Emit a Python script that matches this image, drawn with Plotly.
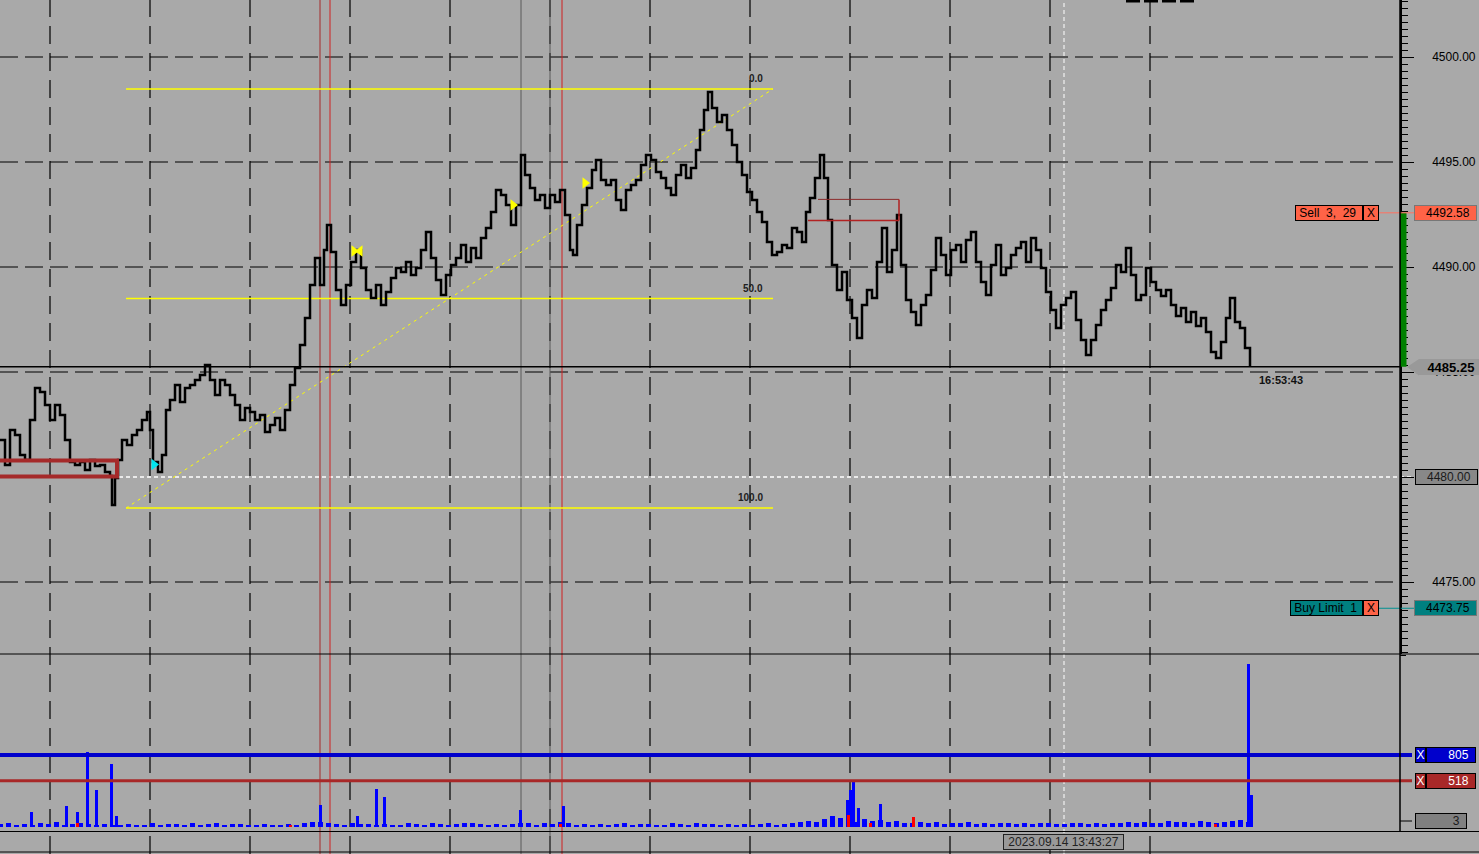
import plotly.graph_objects as go

# ---------------- data ----------------
tick_idx = [0, 5, 10, 15, 20, 25, 30, 35, 40, 45, 50, 55, 60, 65, 70, 75, 80, 85, 90, 95,
            100, 105, 110, 112, 115, 118, 122, 127, 132, 137, 142, 147, 150, 153, 158, 162, 166, 170, 175, 180,
            185, 190, 195, 200, 205, 210, 215, 220, 225, 230, 235, 240, 245, 250, 255, 260, 265, 270, 275, 280,
            285, 290, 295, 300, 305, 310, 315, 320, 324, 327, 331, 336, 341, 346, 351, 356, 361, 366, 371, 376,
            381, 386, 391, 396, 401, 406, 411, 416, 421, 426, 431, 436, 441, 446, 451, 456, 461, 466, 471, 476,
            481, 486, 491, 496, 501, 506, 511, 516, 521, 525, 530, 535, 540, 545, 550, 555, 560, 565, 570, 573,
            577, 582, 587, 592, 596, 601, 606, 611, 616, 621, 626, 631, 636, 641, 646, 651, 656, 661, 666, 671,
            676, 681, 686, 691, 696, 700, 704, 708, 712, 717, 722, 727, 732, 737, 742, 747, 752, 757, 762, 767,
            772, 777, 782, 787, 792, 797, 802, 806, 810, 815, 820, 824, 828, 832, 837, 842, 847, 852, 857, 862,
            867, 872, 877, 882, 887, 892, 897, 901, 906, 911, 916, 921, 926, 931, 936, 941, 946, 951, 956, 961,
            966, 971, 976, 981, 986, 991, 996, 1001, 1006, 1011, 1016, 1021, 1026, 1031, 1036, 1041, 1046, 1051, 1056, 1061,
            1066, 1071, 1076, 1081, 1086, 1091, 1096, 1101, 1106, 1111, 1116, 1121, 1126, 1131, 1136, 1141, 1146, 1151, 1156, 1161,
            1166, 1171, 1176, 1181, 1186, 1191, 1196, 1201, 1206, 1211, 1216, 1221, 1226, 1230, 1235, 1240, 1245, 1250]
price = [4481.76, 4480.57, 4482.24, 4482.00, 4481.05, 4480.81, 4482.71, 4484.24, 4484.05, 4483.43,
         4482.71, 4483.43, 4482.95, 4481.76, 4480.71, 4480.57, 4480.71, 4480.33, 4480.81, 4480.52,
         4480.57, 4480.24, 4480.05, 4478.67, 4479.95, 4480.81, 4481.76, 4481.52, 4482.00, 4482.24,
         4482.71, 4483.10, 4482.24, 4480.71, 4480.24, 4481.05, 4483.19, 4483.67, 4484.38, 4483.57,
         4484.24, 4484.38, 4484.62, 4484.86, 4485.33, 4484.62, 4483.90, 4484.62, 4484.38, 4483.90,
         4483.43, 4482.71, 4483.29, 4483.10, 4482.71, 4482.95, 4482.14, 4482.48, 4482.81, 4482.24,
         4483.19, 4484.38, 4485.19, 4486.29, 4487.57, 4489.14, 4490.43, 4489.14, 4490.81, 4492.00,
         4490.71, 4488.90, 4488.19, 4489.14, 4490.24, 4490.81, 4489.95, 4488.90, 4488.52, 4489.14,
         4488.19, 4488.81, 4489.48, 4489.95, 4489.76, 4490.24, 4489.62, 4489.95, 4490.81, 4491.67,
         4490.43, 4489.38, 4488.67, 4489.62, 4490.10, 4490.43, 4491.05, 4490.24, 4490.90, 4490.43,
         4491.38, 4491.86, 4492.62, 4493.67, 4493.43, 4492.95, 4492.00, 4492.95, 4495.33, 4494.38,
         4493.76, 4493.19, 4493.43, 4492.81, 4493.43, 4493.10, 4493.67, 4492.48, 4490.81, 4490.57,
         4492.00, 4492.95, 4493.76, 4494.62, 4495.10, 4494.14, 4493.90, 4494.14, 4493.19, 4492.71,
         4493.67, 4493.90, 4494.14, 4494.86, 4495.33, 4495.10, 4494.52, 4494.24, 4493.76, 4493.43,
         4494.38, 4494.86, 4494.24, 4494.71, 4495.57, 4496.52, 4497.48, 4498.33, 4497.57, 4496.90,
         4497.24, 4496.52, 4495.81, 4495.00, 4494.38, 4493.57, 4493.19, 4492.62, 4492.14, 4491.19,
         4490.57, 4490.71, 4491.05, 4490.90, 4491.86, 4491.67, 4491.19, 4492.62, 4493.29, 4494.24,
         4495.33, 4494.24, 4492.24, 4490.10, 4488.90, 4489.76, 4488.43, 4487.57, 4486.62, 4488.19,
         4488.90, 4488.52, 4490.24, 4491.86, 4489.76, 4490.81, 4492.48, 4490.10, 4488.43, 4487.86,
         4487.24, 4488.19, 4488.67, 4489.86, 4491.38, 4490.57, 4489.62, 4490.81, 4491.05, 4490.24,
         4491.29, 4491.67, 4490.24, 4489.29, 4488.67, 4490.10, 4491.05, 4489.62, 4489.95, 4490.57,
         4490.90, 4491.19, 4490.24, 4491.38, 4490.81, 4489.95, 4488.81, 4487.95, 4487.10, 4488.19,
         4488.52, 4488.81, 4487.48, 4486.52, 4485.81, 4486.52, 4487.24, 4487.95, 4488.43, 4489.00,
         4490.10, 4489.76, 4490.90, 4489.62, 4488.43, 4488.67, 4489.95, 4489.29, 4488.90, 4488.62,
         4488.90, 4488.19, 4487.67, 4488.05, 4487.38, 4487.86, 4487.19, 4487.57, 4486.90, 4485.95,
         4485.67, 4486.43, 4487.57, 4488.52, 4487.38, 4487.10, 4486.14, 4485.25]

vol_idx = list(range(0, 1256, 8))
vol_base = [30, 45, 25, 35, 20, 40, 30, 55, 25, 35,
            40, 30, 20, 35, 25, 15, 30, 20, 25, 45,
            25, 35, 30, 20, 40, 25, 30, 45, 20, 35,
            30, 25, 20, 35, 15, 25, 30, 20, 40, 55,
            60, 45, 35, 25, 40, 30, 35, 25, 30, 20,
            25, 40, 30, 20, 45, 30, 25, 35, 40, 50,
            30, 25, 35, 20, 30, 45, 40, 25, 50, 30,
            55, 40, 25, 30, 20, 35, 25, 30, 40, 25,
            35, 30, 20, 25, 40, 30, 25, 45, 35, 30,
            25, 30, 20, 35, 25, 30, 40, 25, 35, 45,
            55, 70, 60, 90, 120, 100, 85, 60, 95, 70,
            80, 55, 65, 50, 45, 60, 40, 55, 35, 50,
            40, 55, 30, 45, 35, 50, 40, 30, 45, 35,
            50, 40, 35, 30, 45, 40, 35, 50, 30, 40,
            45, 55, 40, 60, 50, 45, 70, 55, 60, 50,
            65, 55, 45, 60, 70, 80, 60]
spike_idx = [31, 66, 77, 87, 96, 111, 116, 320, 357, 376, 384, 520, 563, 847, 850, 853, 858, 880, 1248, 1251]
spike_vol = [168, 235, 168, 838, 414, 704, 123, 246, 123, 425, 335, 190, 235, 302, 414, 514, 212, 257, 1822, 358]
red_idx = [77, 290, 560, 848, 870, 913, 1215]
red_vol = [40, 25, 30, 130, 45, 110, 35]

grid_prices = [4475, 4480, 4485, 4490, 4495, 4500]
tick_labels = ["4475.00", "", "4485.00", "4490.00", "4495.00", "4500.00"]
grid_x = [50, 150, 250, 350, 450, 550, 650, 750, 850, 950, 1050, 1150]
red_vlines = [320, 330, 562]
gray_vlines = [521, 550]
crosshair_x = 1064
fib_levels = ["0.0", "50.0", "100.0"]
fib_prices = [4498.48, 4488.50, 4478.52]
fib_x = [126, 773]
current_price = 4485.25
sell_price = 4492.58
buy_price = 4473.75
marked_level = 4480.00
vol_levels = [805, 518]
vol_min_label = "3"
range_box = dict(x0=-10, x1=117, y0=4480.02, y1=4480.79)
order_box = dict(x0=808, x1=899, y0=4492.22, y1=4493.22)

BG = "#a9a9a9"
FONT = "Liberation Sans"
PW = 1400.0   # plot width px
H = 854.0

def px(xp):
    return xp / PW

def py(yp):
    return (H - yp) / H

fig = go.Figure()

# volume
fig.add_trace(go.Bar(x=vol_idx, y=vol_base, width=5, marker=dict(color="#0000ff", line=dict(width=0)),
                     yaxis="y2", hoverinfo="skip"))
fig.add_trace(go.Bar(x=spike_idx, y=spike_vol, width=3, marker=dict(color="#0000ff", line=dict(width=0)),
                     yaxis="y2", hoverinfo="skip"))
fig.add_trace(go.Bar(x=red_idx, y=red_vol, width=3, marker=dict(color="#ff0000", line=dict(width=0)),
                     yaxis="y2", hoverinfo="skip"))

# fib diagonal
fig.add_trace(go.Scatter(x=fib_x, y=[fib_prices[2], fib_prices[0]], mode="lines",
                         line=dict(color="#ffff00", width=1, dash="3px,4px"), hoverinfo="skip"))
# fib levels
for fp in fib_prices:
    fig.add_trace(go.Scatter(x=fib_x, y=[fp, fp], mode="lines", line=dict(color="#ffff00", width=1.5),
                             hoverinfo="skip"))

# price
fig.add_trace(go.Scatter(x=tick_idx, y=price, mode="lines", line=dict(color="black", width=2.5, shape="hv"),
                         hoverinfo="skip"))

# markers
fig.add_trace(go.Scatter(x=[154], y=[4480.6], mode="markers",
                         marker=dict(symbol="triangle-right", color="#00e5ee", size=10), hoverinfo="skip"))
fig.add_trace(go.Scatter(x=[354, 513, 585], y=[4490.76, 4492.95, 4494.0], mode="markers",
                         marker=dict(symbol="triangle-right", color="#ffff00", size=10), hoverinfo="skip"))
fig.add_trace(go.Scatter(x=[360], y=[4490.76], mode="markers",
                         marker=dict(symbol="triangle-left", color="#ffff00", size=10), hoverinfo="skip"))

shapes = []
# horizontal grid
for gp in grid_prices:
    if gp == marked_level:
        shapes.append(dict(type="line", xref="paper", yref="y", x0=0, x1=px(1412), y0=gp, y1=gp,
                           line=dict(color="white", width=1.5, dash="4px,3px"), layer="below"))
    else:
        shapes.append(dict(type="line", xref="paper", yref="y", x0=0, x1=1, y0=gp, y1=gp,
                           line=dict(color="black", width=1.2, dash="18px,7px"), layer="below"))
# vertical grid
for gx in grid_x:
    shapes.append(dict(type="line", xref="x", yref="paper", x0=gx, x1=gx, y0=0, y1=1,
                       line=dict(color="black", width=1.2, dash="18px,9px"), layer="below"))
for gx in gray_vlines:
    shapes.append(dict(type="line", xref="x", yref="paper", x0=gx, x1=gx, y0=0, y1=1,
                       line=dict(color="#5a5a5a", width=1), layer="below"))
for i, gx in enumerate(red_vlines):
    shapes.append(dict(type="line", xref="x", yref="paper", x0=gx, x1=gx, y0=0, y1=1,
                       line=dict(color="#a52a2a" if i == 0 else "#d02020", width=1), layer="below"))
shapes.append(dict(type="line", xref="x", yref="paper", x0=crosshair_x, x1=crosshair_x, y0=0, y1=1,
                   line=dict(color="white", width=1, dash="4px,3px"), layer="below"))
# current price solid line
shapes.append(dict(type="line", xref="paper", yref="y", x0=0, x1=1, y0=current_price, y1=current_price,
                   line=dict(color="black", width=1.5)))
# range box (left)
shapes.append(dict(type="rect", xref="x", yref="y", **range_box,
                   line=dict(color="#a52a2a", width=4)))
# order box
shapes.append(dict(type="line", xref="x", yref="y", x0=order_box["x0"] + 10, x1=order_box["x1"],
                   y0=order_box["y1"], y1=order_box["y1"], line=dict(color="#8b2a2a", width=1)))
shapes.append(dict(type="line", xref="x", yref="y", x0=order_box["x0"], x1=order_box["x1"],
                   y0=order_box["y0"], y1=order_box["y0"], line=dict(color="#b22222", width=1.5)))
shapes.append(dict(type="line", xref="x", yref="y", x0=order_box["x1"], x1=order_box["x1"],
                   y0=order_box["y0"], y1=order_box["y1"], line=dict(color="#b22222", width=1.5)))
# green bar on axis
shapes.append(dict(type="rect", xref="paper", yref="y", x0=px(1400.5), x1=px(1406.5),
                   y0=current_price, y1=sell_price, fillcolor="#008000", line=dict(width=0)))
# order connecting lines
shapes.append(dict(type="line", xref="paper", yref="y", x0=px(1379), x1=px(1414), y0=sell_price, y1=sell_price,
                   line=dict(color="#ff7060", width=1)))
shapes.append(dict(type="line", xref="paper", yref="y", x0=px(1379), x1=px(1414), y0=buy_price, y1=buy_price,
                   line=dict(color="#009090", width=1)))
# volume level lines
shapes.append(dict(type="line", xref="paper", yref="y2", x0=0, x1=px(1412), y0=vol_levels[0], y1=vol_levels[0],
                   line=dict(color="#0000cc", width=4)))
shapes.append(dict(type="line", xref="paper", yref="y2", x0=0, x1=px(1412), y0=vol_levels[1], y1=vol_levels[1],
                   line=dict(color="#a82828", width=3)))
# panel borders
for yb in [654, 831.5, 852]:
    shapes.append(dict(type="line", xref="paper", yref="paper", x0=0, x1=px(1479), y0=py(yb), y1=py(yb),
                       line=dict(color="black", width=1)))
shapes.append(dict(type="line", xref="paper", yref="paper", x0=1, x1=1, y0=py(831), y1=1,
                   line=dict(color="black", width=1.5)))
shapes.append(dict(type="line", xref="paper", yref="paper", x0=1, x1=px(1412), y0=py(821), y1=py(821),
                   line=dict(color="black", width=1)))
shapes.append(dict(type="line", xref="paper", yref="paper", x0=1, x1=px(1406), y0=py(655.5), y1=py(655.5),
                   line=dict(color="black", width=1)))
# current price arrow
shapes.append(dict(type="path", xref="paper", yref="paper",
                   path=f"M {px(1407)} {py(367)} L {px(1419)} {py(359)} L {px(1419)} {py(375.5)} Z",
                   fillcolor="#999999", line=dict(width=0)))
# top cut marks
shapes.append(dict(type="line", xref="paper", yref="paper", x0=px(1126), x1=px(1195), y0=py(1), y1=py(1),
                   line=dict(color="black", width=3, dash="14px,4px")))

ann = []
# fib labels
for lab, fp in zip(fib_levels, fib_prices):
    ann.append(dict(x=765, y=fp, xref="x", yref="y", text=f"<b>{lab}</b>", showarrow=False,
                    xanchor="right", yanchor="bottom", yshift=3,
                    font=dict(family=FONT, size=10, color="#202020")))

def box(xl, yv, yref, text, w, bg, fc="black", border="#777777", align="right", bold=False, size=12, h=14):
    t = f"<b>{text}</b>" if bold else text
    return dict(x=px(xl), y=yv, xref="paper", yref=yref, text=t, showarrow=False, xanchor="left",
                yanchor="middle", width=w, height=h, align=align, bgcolor=bg, bordercolor=border,
                borderwidth=1, borderpad=0, font=dict(family=FONT, size=size, color=fc))

# right axis labels
ann.append(box(1414, sell_price, "y", f"{sell_price:.2f}  ", 61, "#ff6347"))
ann.append(box(1414, buy_price, "y", f"{buy_price:.2f}  ", 61, "#008080"))
ann.append(box(1415, marked_level, "y", f"{marked_level:.2f}  ", 61, "#888888", fc="#1a1a1a", border="black"))
ann.append(box(1419, current_price, "y", f"{current_price:.2f} ", 58, "#999999", bold=True, border="#999999",
               size=13))
# order boxes
ann.append(box(1295, sell_price, "y", " Sell  3,  29", 66, "#ff6347", align="left", border="black"))
ann.append(box(1363, sell_price, "y", "X", 14, "#ff6347", align="center", border="black"))
ann.append(box(1290, buy_price, "y", " Buy Limit  1", 71, "#008080", align="left", border="black"))
ann.append(box(1363, buy_price, "y", "X", 14, "#ff6347", align="center", border="black"))
# volume labels
ann.append(box(1415, vol_levels[0], "y2", "X", 9, "#0000cc", fc="white", align="center", border="black"))
ann.append(box(1426, vol_levels[0], "y2", f"{vol_levels[0]}  ", 48, "#0000cc", fc="white", border="black"))
ann.append(box(1415, vol_levels[1], "y2", "X", 9, "#a82828", fc="white", align="center", border="black"))
ann.append(box(1426, vol_levels[1], "y2", f"{vol_levels[1]}  ", 48, "#a82828", fc="white", border="black"))
ann.append(dict(x=px(1415), y=py(821), xref="paper", yref="paper", text=vol_min_label + "  ", showarrow=False,
                xanchor="left", yanchor="middle", width=50, height=14, align="right", bgcolor="#808080",
                bordercolor="black", borderwidth=1, borderpad=0, font=dict(family=FONT, size=12, color="#1a1a1a")))
# time labels
ann.append(dict(x=1257, y=4484.62, xref="x", yref="y", text="<b>16:53:43</b>", showarrow=False,
                xanchor="left", yanchor="middle", font=dict(family=FONT, size=11, color="#111111")))
ann.append(dict(x=px(1063.5), y=py(842), xref="paper", yref="paper", text="2023.09.14 13:43:27",
                showarrow=False, xanchor="center", yanchor="middle", width=119, height=14, bgcolor="#999999",
                bordercolor="#222222", borderwidth=1, borderpad=0,
                font=dict(family=FONT, size=12, color="#222222")))

fig.update_layout(
    width=1479, height=854,
    margin=dict(l=0, r=79, t=0, b=0),
    paper_bgcolor=BG, plot_bgcolor=BG,
    showlegend=False, barmode="overlay", bargap=0,
    xaxis=dict(range=[0, 1400], visible=False, domain=[0, 1], anchor="y2"),
    yaxis=dict(domain=[py(654), 1], range=[4500 - (654 - 57) / 21, 4500 + 57 / 21], side="right",
               anchor="x", showline=True, linecolor="black", linewidth=1.5, showgrid=False, zeroline=False,
               tickmode="array", tickvals=grid_prices, ticktext=tick_labels, ticks="outside", ticklen=12,
               tickcolor="black", tickwidth=1, ticklabelstandoff=16,
               tickfont=dict(family=FONT, size=12, color="black"),
               minor=dict(ticks="outside", ticklen=6, tickcolor="black", tick0=4500, dtick=1 / 3,
                          showgrid=False)),
    yaxis2=dict(domain=[py(831), py(655)], range=[-4 * 11.18, 172 * 11.18], side="right", anchor="x",
                showline=False, showgrid=False, zeroline=False, showticklabels=False, ticks=""),
    shapes=shapes, annotations=ann,
)

fig.write_html("out.html", config={"displayModeBar": False},
               post_script="document.body.style.margin='0';document.body.style.background='#a9a9a9';")
